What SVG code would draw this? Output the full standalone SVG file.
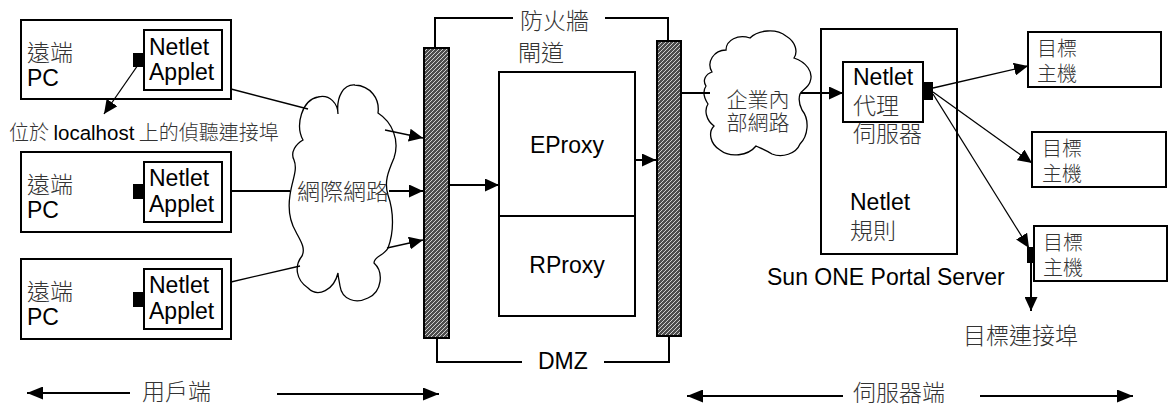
<svg xmlns="http://www.w3.org/2000/svg" width="1168" height="407" viewBox="0 0 1168 407">
  <style>
    .box { fill: #fff; stroke: #000; stroke-width: 2; }
    .wall { fill: url(#hatch); stroke: #000; stroke-width: 2; }
    .plug { fill: #000; stroke: none; }
    .cloud { fill: #fff; stroke: #000; stroke-width: 1.3; }
    .line { fill: none; stroke: #000; stroke-width: 2; }
    .thin { fill: none; stroke: #000; stroke-width: 1.3; }
    .lat { font-family: "Liberation Sans", Arial, sans-serif; font-size: 23px; fill: #000; }
    .cjk { font-family: "Noto Sans CJK TC", "Noto Sans CJK SC", sans-serif; font-size: 23px; font-weight: 300; fill: #333; }
    .host { font-size: 20px; }
  </style>
  <defs>
    <pattern id="hatch" patternUnits="userSpaceOnUse" width="4" height="4">
      <rect width="4" height="4" fill="#4d4d4d"/>
      <path d="M-1,1 L1,-1 M0,4 L4,0 M3,5 L5,3" stroke="#cfcfcf" stroke-width="1"/>
    </pattern>
    <marker id="ah" markerUnits="userSpaceOnUse" markerWidth="15" markerHeight="13" refX="14" refY="6.5" orient="auto">
      <path d="M0,0 L14,6.5 L0,13 z" fill="#000"/>
    </marker>
    <marker id="ahBig" markerUnits="userSpaceOnUse" markerWidth="17" markerHeight="13" refX="16" refY="6.5" orient="auto">
      <path d="M0,0 L16,6.5 L0,13 z" fill="#000"/>
    </marker>
  </defs>

  <rect width="1168" height="407" fill="#fff"/>

  <!-- remote PCs -->
  <g id="pc1">
    <rect class="box" x="21" y="20" width="210" height="79"/>
    <rect class="box" x="144" y="30" width="78" height="60"/>
    <rect class="plug" x="133" y="53" width="11" height="14"/>
    <text class="lat" x="27" y="61"><tspan class="cjk">遠端</tspan><tspan x="27" y="86">PC</tspan></text>
    <text class="lat" x="149" y="55">Netlet<tspan x="149" y="80">Applet</tspan></text>
  </g>
  <g id="pc2">
    <rect class="box" x="21" y="152" width="210" height="80"/>
    <rect class="box" x="144" y="162" width="78" height="60"/>
    <rect class="plug" x="133" y="184" width="11" height="15"/>
    <text class="lat" x="27" y="193"><tspan class="cjk">遠端</tspan><tspan x="27" y="218">PC</tspan></text>
    <text class="lat" x="149" y="186">Netlet<tspan x="149" y="212">Applet</tspan></text>
  </g>
  <g id="pc3">
    <rect class="box" x="21" y="259" width="210" height="80"/>
    <rect class="box" x="144" y="269" width="78" height="60"/>
    <rect class="plug" x="133" y="292" width="11" height="15"/>
    <text class="lat" x="27" y="300"><tspan class="cjk">遠端</tspan><tspan x="27" y="325">PC</tspan></text>
    <text class="lat" x="149" y="293">Netlet<tspan x="149" y="319">Applet</tspan></text>
  </g>

  <!-- internet cloud -->
  <g id="internet">
    <path class="cloud" d="M303,140 C295,125 302,100 318,97 C330,94 338,104 338,114 C336,96 344,84 355,85 C370,86 380,98 378,113 C392,122 400,140 394,158 C388,172 384,182 388,195 C394,212 394,232 388,248 C384,256 374,256 374,263 C384,272 382,292 368,298 C356,304 342,300 340,286 C339,280 338,276 338,273 C334,290 318,298 308,288 C296,280 294,266 302,256 C306,248 300,240 296,232 C290,222 288,208 290,195 C292,180 298,170 294,160 C290,152 296,144 303,140 Z"/>
    <text class="cjk" x="297" y="200">網際網路</text>
  </g>

  <g id="localhost-label">
    <text class="cjk" x="9" y="140" style="font-size:20px">位於 <tspan class="lat" style="font-size:20.5px">localhost</tspan> 上的偵聽連接埠</text>
  </g>

  <!-- firewalls and gateway -->
  <g id="firewall-outer">
    <rect class="wall" x="424" y="48" width="25" height="290"/>
  </g>
  <g id="firewall-inner">
    <rect class="wall" x="657" y="41" width="24" height="295"/>
  </g>
  <g id="firewall-label">
    <text class="cjk" x="520" y="29">防火牆</text>
  </g>
  <g id="dmz-label">
    <text class="lat" x="538" y="369">DMZ</text>
  </g>
  <g id="gateway">
    <text class="cjk" x="518" y="61">閘道</text>
    <rect class="box" x="499" y="72" width="136" height="244"/>
    <line class="line" x1="499" y1="216" x2="635" y2="216"/>
    <text class="lat" x="567" y="153" text-anchor="middle">EProxy</text>
    <text class="lat" x="567" y="273" text-anchor="middle">RProxy</text>
  </g>

  <!-- intranet cloud -->
  <g id="intranet">
    <path class="cloud" d="M712,72 C706,62 714,50 726,50 C726,40 738,34 750,38 C758,30 776,28 786,36 C796,42 798,52 794,58 C806,62 814,72 810,82 C808,88 802,90 800,94 C798,100 800,106 802,110 C810,120 808,136 800,144 C796,154 782,158 772,154 C766,150 760,148 756,146 C748,156 730,158 720,150 C710,144 708,132 714,126 C706,120 704,110 708,104 C704,98 702,92 706,86 C702,80 706,74 712,72 Z"/>
    <text class="cjk" x="758" y="107" text-anchor="middle" style="font-size:21px">企業內<tspan x="758" y="130">部網路</tspan></text>
  </g>

  <!-- portal server -->
  <g id="portal-server">
    <rect class="box" x="821" y="29" width="136" height="225"/>
    <text class="lat" x="850" y="210">Netlet<tspan class="cjk" x="850" y="239">規則</tspan></text>
    <text class="lat" x="767" y="285">Sun ONE Portal Server</text>
  </g>
  <g id="netlet-proxy">
    <rect class="box" x="843" y="62" width="80" height="60"/>
    <rect class="plug" x="923" y="82" width="10" height="18"/>
    <text class="lat" x="853" y="85">Netlet<tspan class="cjk" x="853" y="114">代理</tspan><tspan class="cjk" x="853" y="142">伺服器</tspan></text>
  </g>

  <!-- target hosts -->
  <g id="host1">
    <rect class="box" x="1028" y="32" width="133" height="55"/>
    <text class="cjk host" x="1037" y="56">目標<tspan x="1037" y="81">主機</tspan></text>
  </g>
  <g id="host2">
    <rect class="box" x="1032" y="132" width="134" height="55"/>
    <text class="cjk host" x="1042" y="156">目標<tspan x="1042" y="181">主機</tspan></text>
  </g>
  <g id="host3">
    <rect class="box" x="1034" y="226" width="133" height="55"/>
    <text class="cjk host" x="1043" y="250">目標<tspan x="1043" y="275">主機</tspan></text>
  </g>
  <g id="target-port-label">
    <text class="cjk" x="963" y="344">目標連接埠</text>
  </g>

  <!-- client / server side labels -->
  <g id="client-side">
    <text class="cjk" x="142" y="400">用戶端</text>
  </g>
  <g id="server-side">
    <text class="cjk" x="853" y="401">伺服器端</text>
  </g>

  <!-- connectors -->
  <g id="connectors">
    <line class="thin" x1="138" y1="65" x2="104" y2="114" marker-end="url(#ah)"/>
    <line class="thin" x1="231" y1="89" x2="308" y2="109"/>
    <line class="thin" x1="385" y1="130" x2="423" y2="138" marker-end="url(#ah)"/>
    <line class="line" x1="231" y1="191" x2="290" y2="191"/>
    <line class="line" x1="389" y1="191" x2="423" y2="191" marker-end="url(#ah)"/>
    <line class="thin" x1="231" y1="282" x2="300" y2="266"/>
    <line class="thin" x1="387" y1="248" x2="423" y2="240" marker-end="url(#ah)"/>
    <line class="line" x1="449" y1="185" x2="499" y2="185" marker-end="url(#ah)"/>
    <line class="line" x1="635" y1="160" x2="656" y2="160" marker-end="url(#ah)"/>
    <line class="line" x1="682" y1="93" x2="710" y2="93"/>
    <line class="line" x1="801" y1="93" x2="843" y2="93" marker-end="url(#ah)"/>
    <line class="thin" x1="933" y1="88" x2="1028" y2="66" marker-end="url(#ah)"/>
    <line class="thin" x1="933" y1="92" x2="1032" y2="163" marker-end="url(#ah)"/>
    <line class="thin" x1="933" y1="94" x2="1029" y2="248" marker-end="url(#ah)"/>
    <rect class="plug" x="1027" y="247" width="8" height="16"/>
    <line class="line" x1="1031" y1="262" x2="1031" y2="311" marker-end="url(#ah)"/>
    <!-- firewall brackets -->
    <polyline class="line" points="435,48 435,18 513,18"/>
    <polyline class="line" points="605,18 668,18 668,41"/>
    <polyline class="line" points="437,338 437,362 522,362"/>
    <polyline class="line" points="604,362 669,362 669,336"/>
    <!-- side spans -->
    <line class="line" x1="130" y1="393" x2="27" y2="393" marker-end="url(#ahBig)"/>
    <line class="line" x1="277" y1="394" x2="439" y2="394" marker-end="url(#ahBig)"/>
    <line class="line" x1="843" y1="396" x2="687" y2="396" marker-end="url(#ahBig)"/>
    <line class="line" x1="980" y1="396" x2="1133" y2="396" marker-end="url(#ahBig)"/>
  </g>
</svg>
